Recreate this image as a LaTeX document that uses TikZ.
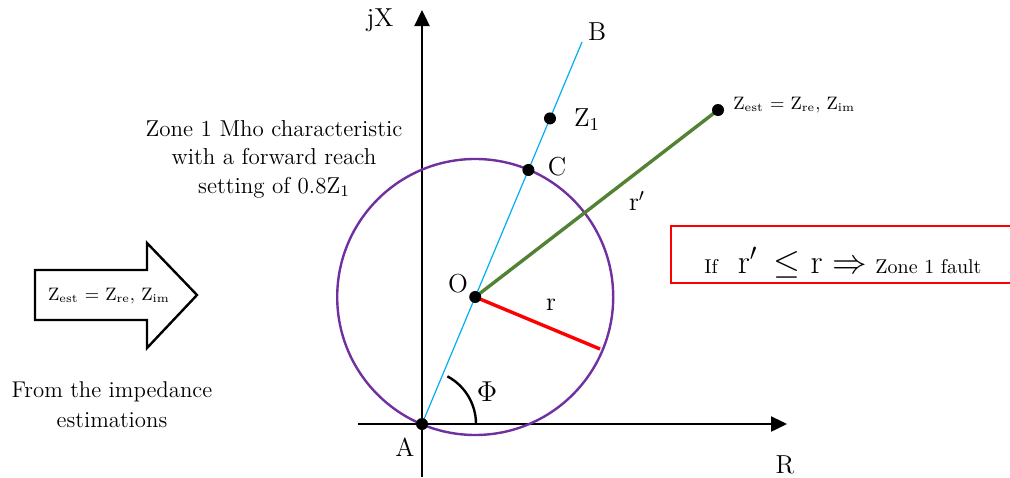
\documentclass[tikz,border=0pt]{standalone}
\usepackage{amsmath,amssymb}
\usepackage{xcolor}
\usetikzlibrary{arrows.meta,positioning,calc}
\definecolor{mhoviolet}{RGB}{112,48,160}
\definecolor{reachblue}{RGB}{0,176,240}
\definecolor{estgreen}{RGB}{84,130,53}

\begin{document}
\begin{tikzpicture}[x=0.5pt, y=-0.5pt,
  lbl/.style={font=\fontsize{13}{15}\selectfont, inner sep=0pt},
  txt/.style={font=\fontsize{11.5}{14.25}\selectfont, align=center, inner sep=0pt},
  ztxt/.style={font=\fontsize{9}{11}\selectfont, inner sep=0pt},
  dot/.style={circle, fill=black, inner sep=0pt, minimum size=6pt},
  axis/.style={-{Triangle[length=8pt, width=7.5pt]}, line width=1.2pt}]
\useasboundingbox (0,0) rectangle (1010,477);
% points of the impedance plane
\coordinate (A) at (422,424);
\coordinate (B) at (582,42);
\coordinate (C) at ($(A)!0.665!(B)$);
\coordinate (Z1) at ($(A)!0.8!(B)$);
\coordinate (O) at ($(A)!0.5!(C)$);
\coordinate (Zest) at (718,110);
\coordinate (rend) at (600,349);
\coordinate (xs) at (358,424);
\coordinate (xe) at (787,424);
\coordinate (ys) at (422,477);
\coordinate (ye) at (422,10);
% axes
\draw[axis] (xs) -- (xe);
\draw[axis] (ys) -- (ye);
% reach line and mho circle
\draw[reachblue, line width=0.6pt] (A) -- (B);
\draw[mhoviolet, line width=1.2pt] (O) circle[radius=69pt];
\draw[red, line width=1.7pt] (O) -- (rend);
\draw[estgreen, line width=1.7pt] (O) -- (Zest);
\draw[line width=1.2pt] ($(A)+(27pt,0)$) arc[start angle=0, end angle=62, radius=27pt];
\foreach \p in {A,C,Z1,O,Zest} \node[dot] at (\p) {};
% labels
\node[lbl] (jx) at (380,20) {jX};
\node[lbl] (rx) at (785,465) {R};
\node[lbl] (lb) at (597,32) {B};
\node[lbl] (lc) at (557,167) {C};
\node[lbl] (lo) at (458,284) {O};
\node[lbl] (la) at (405,447) {A};
\node[lbl] (lz) at (587,120) {Z\textsubscript{1}};
\node[lbl, font=\fontsize{15}{17}\selectfont] (phi) at (487,392) {$\Phi$};
\node[lbl] (lr) at (551,305) {r};
\node[lbl] (lrp) at (637,201) {r$'$};
\node[ztxt, anchor=west] (zest) at (733,105) {Z\textsubscript{est} = Z\textsubscript{re}, Z\textsubscript{im}};
% texts
\node[txt] (mho) at (274,159) {Zone 1 Mho characteristic\\with a forward reach\\setting of 0.8Z\textsubscript{1}};
\node[txt, font=\fontsize{11.4}{15}\selectfont] (src) at (112,405) {From the impedance\\estimations};
% input arrow
\draw[line width=1.2pt] (35,270) -- (147,270) -- (147,243) -- (197,295) -- (147,348) -- (147,320) -- (35,320) -- cycle;
\node[ztxt] (zin) at (109,296) {Z\textsubscript{est} = Z\textsubscript{re}, Z\textsubscript{im}};
% trip rule
\node[draw=red, line width=1.2pt, minimum width=172pt, minimum height=28.5pt, inner sep=0pt] (rule) at (843,254.5) {};
\node[anchor=base, inner sep=0pt] (ruletxt) at (843,273) {{\fontsize{10}{12}\selectfont If}\hspace{10pt}{\fontsize{17}{20}\selectfont r$'$\, $\leq$ r $\Rightarrow$}\hspace{4pt}{\fontsize{10}{12}\selectfont Zone 1 fault}};
\end{tikzpicture}
\end{document}
